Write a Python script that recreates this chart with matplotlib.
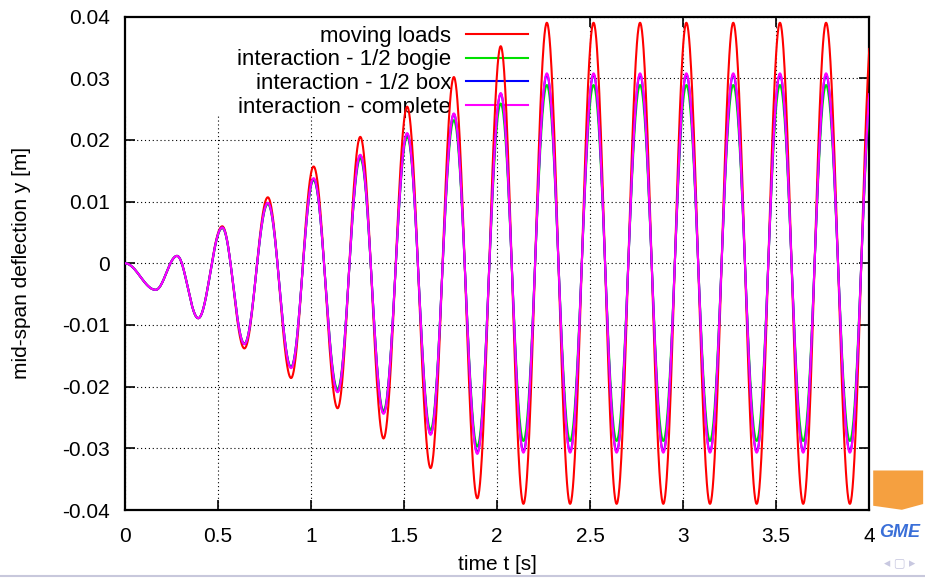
import numpy as np
import matplotlib.pyplot as plt
from matplotlib.patches import Rectangle, Polygon

plt.rcParams['font.family'] = ['Liberation Sans', 'DejaVu Sans']

# times of the successive extrema (troughs / peaks) [s]
t_ext = [0.0, 0.165, 0.28, 0.394, 0.523, 0.642, 0.768, 0.893, 1.014, 1.143,
         1.265, 1.39, 1.517, 1.643, 1.768, 1.894, 2.02, 2.142, 2.268, 2.393,
         2.519, 2.643, 2.769, 2.894, 3.018, 3.145, 3.27, 3.396, 3.521, 3.646,
         3.769, 3.897, 4.02]

# deflection at those extrema [m]
moving_loads = [0.0, -0.0043, 0.0012, -0.0089, 0.0060, -0.0138, 0.0107, -0.0186,
                0.0157, -0.0235, 0.0205, -0.0284, 0.0254, -0.0332, 0.0302, -0.0381,
                0.0352, -0.0390, 0.0390, -0.0390, 0.0390, -0.0390, 0.0390, -0.0390,
                0.0390, -0.0390, 0.0390, -0.0390, 0.0390, -0.0390, 0.0390, -0.0390,
                0.0390]
half_bogie = [0.0, -0.0043, 0.0012, -0.0089, 0.0057, -0.0130, 0.0096, -0.0168,
              0.0135, -0.0204, 0.0170, -0.0239, 0.0205, -0.0270, 0.0232, -0.0297,
              0.0259, -0.0288, 0.0289, -0.0288, 0.0289, -0.0288, 0.0289, -0.0288,
              0.0289, -0.0288, 0.0289, -0.0288, 0.0289, -0.0288, 0.0289, -0.0288,
              0.0289]
half_box = [0.0, -0.0043, 0.0012, -0.0089, 0.0058, -0.0131, 0.0098, -0.0169,
            0.0137, -0.0208, 0.0175, -0.0243, 0.0210, -0.0277, 0.0242, -0.0307,
            0.0275, -0.0305, 0.0306, -0.0305, 0.0306, -0.0305, 0.0306, -0.0305,
            0.0306, -0.0305, 0.0306, -0.0305, 0.0306, -0.0305, 0.0306, -0.0305,
            0.0306]
complete = [0.0, -0.0043, 0.0012, -0.0089, 0.0058, -0.0131, 0.0098, -0.0170,
            0.0138, -0.0209, 0.0176, -0.0244, 0.0211, -0.0278, 0.0243, -0.0309,
            0.0276, -0.0307, 0.0308, -0.0307, 0.0308, -0.0307, 0.0308, -0.0307,
            0.0308, -0.0307, 0.0308, -0.0307, 0.0308, -0.0307, 0.0308, -0.0307,
            0.0308]

labels = ['moving loads', 'interaction - 1/2 bogie',
          'interaction - 1/2 box', 'interaction - complete']
colors = ['#ff0000', '#00e000', '#0000ff', '#ff00ff']

xticks = [0, 0.5, 1, 1.5, 2, 2.5, 3, 3.5, 4]
xticklabels = ['0', '0.5', '1', '1.5', '2', '2.5', '3', '3.5', '4']
yticks = [-0.04, -0.03, -0.02, -0.01, 0, 0.01, 0.02, 0.03, 0.04]
yticklabels = ['-0.04', '-0.03', '-0.02', '-0.01', '0', '0.01', '0.02', '0.03', '0.04']


def smooth(t_pts, v_pts, n=60):
    # half-cosine segments between the read extrema (zero slope at each one)
    tt, vv = [], []
    for i in range(len(t_pts) - 1):
        s = np.linspace(0, 1, n, endpoint=False)
        tt.append(t_pts[i] + (t_pts[i+1] - t_pts[i])*s)
        vv.append(v_pts[i] + (v_pts[i+1] - v_pts[i])*(1 - np.cos(np.pi*s))/2)
    tt.append([t_pts[-1]])
    vv.append([v_pts[-1]])
    return np.concatenate(tt), np.concatenate(vv)


fig = plt.figure(figsize=(9.25, 5.78), dpi=100)
ax = fig.add_axes([0.1351, 0.1176, 0.8044, 0.8537])

for data, lab, col in zip([moving_loads, half_bogie, half_box, complete], labels, colors):
    t, y = smooth(t_ext, data)
    ax.plot(t, y, color=col, lw=1.5, label=lab, zorder=3)

ax.set_xlim(0, 4)
ax.set_ylim(-0.04, 0.04)
ax.set_xticks(xticks)
ax.set_xticklabels(xticklabels)
ax.set_yticks(yticks)
ax.set_yticklabels(yticklabels)
ax.tick_params(direction='in', length=7, width=1.2, top=True, right=True,
               labelsize=15)
ax.tick_params(axis='x', pad=12)
ax.tick_params(axis='y', pad=11)
for sp in ax.spines.values():
    sp.set_linewidth(1.6)
ax.grid(True, color='black', linestyle=(0, (1, 2.5)), lw=0.8, zorder=0)
ax.set_axisbelow(True)

# gnuplot key area hides the grid
ax.add_patch(Rectangle((0, 0.80), 0.575, 0.2, transform=ax.transAxes,
                       facecolor='white', edgecolor='none', zorder=1.5))

leg = ax.legend(loc='upper right', bbox_to_anchor=(0.569, 1.022), frameon=False,
                markerfirst=False, alignment='right', fontsize=16,
                handlelength=2.8, handletextpad=0.68, labelspacing=0.12)
leg.set_zorder(2)

ax.set_xlabel('time t [s]', fontsize=15, labelpad=7)
ax.set_ylabel('mid-span deflection y [m]', fontsize=15, labelpad=22)

# beamer decorations
fig.add_artist(Polygon([[0.944, 0.186], [0.998, 0.186], [0.998, 0.128],
                        [0.975, 0.118], [0.944, 0.125]], closed=True,
                       facecolor='#f5a040', edgecolor='none'))
fig.text(0.973, 0.078, 'GME', color='#3a6fd8', fontsize=13, fontweight='bold',
         style='italic', ha='center', va='center')
fig.text(0.973, 0.026, '\u25c2 \u25a2 \u25b8', color='#c8c8e0', fontsize=9,
         ha='center', va='center')
fig.add_artist(plt.Line2D([0, 1], [0.004, 0.004], color='#c8c8dc', lw=1.5))

fig.savefig('out.png', dpi=100)
